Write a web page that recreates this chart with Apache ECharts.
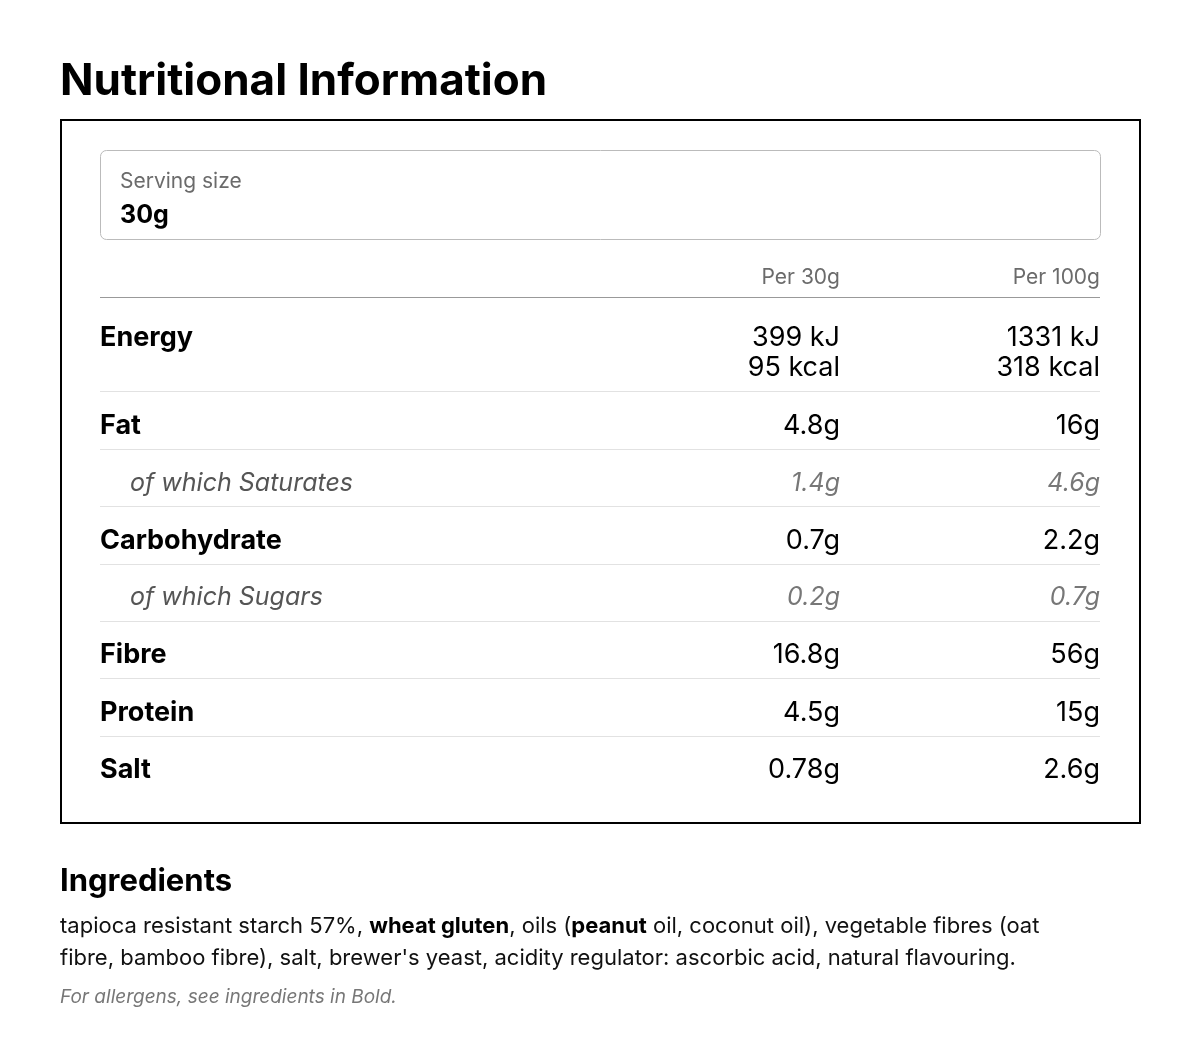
<!DOCTYPE html>
<html>
<head>
<meta charset="utf-8">
<script src="https://cdn.jsdelivr.net/npm/echarts@6/dist/echarts.min.js"></script>
<style>
  html, body { margin: 0; padding: 0; background: #fff; }
  #main { width: 1200px; height: 1059px; }
</style>
</head>
<body>
<div id="main"></div>
<script>
// 数据
var rowLabels = ['Fat', 'of which Saturates', 'Carbohydrate', 'of which Sugars', 'Fibre', 'Protein', 'Salt'];
var rowSub = [false, true, false, true, false, false, false];
var per30 = ['4.8g', '1.4g', '0.7g', '0.2g', '16.8g', '4.5g', '0.78g'];
var per100 = ['16g', '4.6g', '2.2g', '0.7g', '56g', '15g', '2.6g'];
var energy30 = ['399 kJ', '95 kcal'];
var energy100 = ['1331 kJ', '318 kcal'];
var headers = ['Per 30g', 'Per 100g'];
var servingSize = '30g';
var ingredientLines = [
  'tapioca resistant starch 57%, {b|wheat gluten}, oils ({b|peanut} oil, coconut oil), vegetable fibres (oat',
  'fibre, bamboo fibre), salt, brewer\'s yeast, acidity regulator: ascorbic acid, natural flavouring.'
];

var FONT = 'Inter, "Noto Sans", sans-serif';
var col1 = 840, col2 = 1100;
var g = [];

function txt(x, y, s, size, weight, color, align, style) {
  g.push({
    type: 'text', x: x, y: y,
    style: {
      text: s, fontFamily: FONT, fontSize: size, fontWeight: weight || 'normal',
      fontStyle: style || 'normal', fill: color || '#000',
      align: align || 'left', verticalAlign: 'middle'
    }
  });
}
function hline(y, color, w) {
  g.push({ type: 'line', shape: { x1: 100, y1: y, x2: 1100, y2: y }, style: { stroke: color, lineWidth: w || 1 } });
}

// 标题
txt(60, 82, 'Nutritional Information', 44, 'bold');
// 外框
g.push({ type: 'rect', shape: { x: 61, y: 120, width: 1079, height: 703 }, style: { fill: 'none', stroke: '#000', lineWidth: 2 } });
// 份量
g.push({ type: 'rect', shape: { x: 100.5, y: 150.5, width: 1000, height: 89, r: 6 }, style: { fill: 'none', stroke: '#bbb', lineWidth: 1 } });
txt(120, 182, 'Serving size', 21, 'normal', '#6b6b6b');
txt(120, 215, servingSize, 25, 'bold');
// 表头
txt(col1, 278, headers[0], 21, 'normal', '#6b6b6b', 'right');
txt(col2, 278, headers[1], 21, 'normal', '#6b6b6b', 'right');
hline(297.5, '#999');
// 能量
txt(100, 338, 'Energy', 27, 'bold');
txt(col1, 338, energy30[0], 27, 'normal', '#000', 'right');
txt(col1, 368, energy30[1], 27, 'normal', '#000', 'right');
txt(col2, 338, energy100[0], 27, 'normal', '#000', 'right');
txt(col2, 368, energy100[1], 27, 'normal', '#000', 'right');
hline(391.5, '#e2e2e2');
// 其余各行
var rowH = 57.3;
rowLabels.forEach(function (lab, i) {
  var y = 426 + i * rowH;
  if (rowSub[i]) {
    txt(130, y, lab, 25, 'normal', '#555', 'left', 'italic');
    txt(col1, y, per30[i], 25, 'normal', '#777', 'right', 'italic');
    txt(col2, y, per100[i], 25, 'normal', '#777', 'right', 'italic');
  } else {
    txt(100, y, lab, 27, 'bold');
    txt(col1, y, per30[i], 27, 'normal', '#000', 'right');
    txt(col2, y, per100[i], 27, 'normal', '#000', 'right');
  }
  if (i < rowLabels.length - 1) hline(Math.round(y + 23) + 0.5, '#e2e2e2');
});
// 配料
txt(60, 882, 'Ingredients', 31, 'bold');
ingredientLines.forEach(function (line, i) {
  g.push({
    type: 'text', x: 60, y: 926 + i * 32,
    style: {
      text: line, fontFamily: FONT, fontSize: 22, fill: '#111', verticalAlign: 'middle',
      rich: { b: { fontFamily: FONT, fontSize: 22, fontWeight: 'bold', fill: '#000' } }
    }
  });
});
txt(60, 997, 'For allergens, see ingredients in Bold.', 19, 'normal', '#777', 'left', 'italic');

var chart = echarts.init(document.getElementById('main'));
chart.setOption({ backgroundColor: '#fff', graphic: g });
</script>
</body>
</html>
